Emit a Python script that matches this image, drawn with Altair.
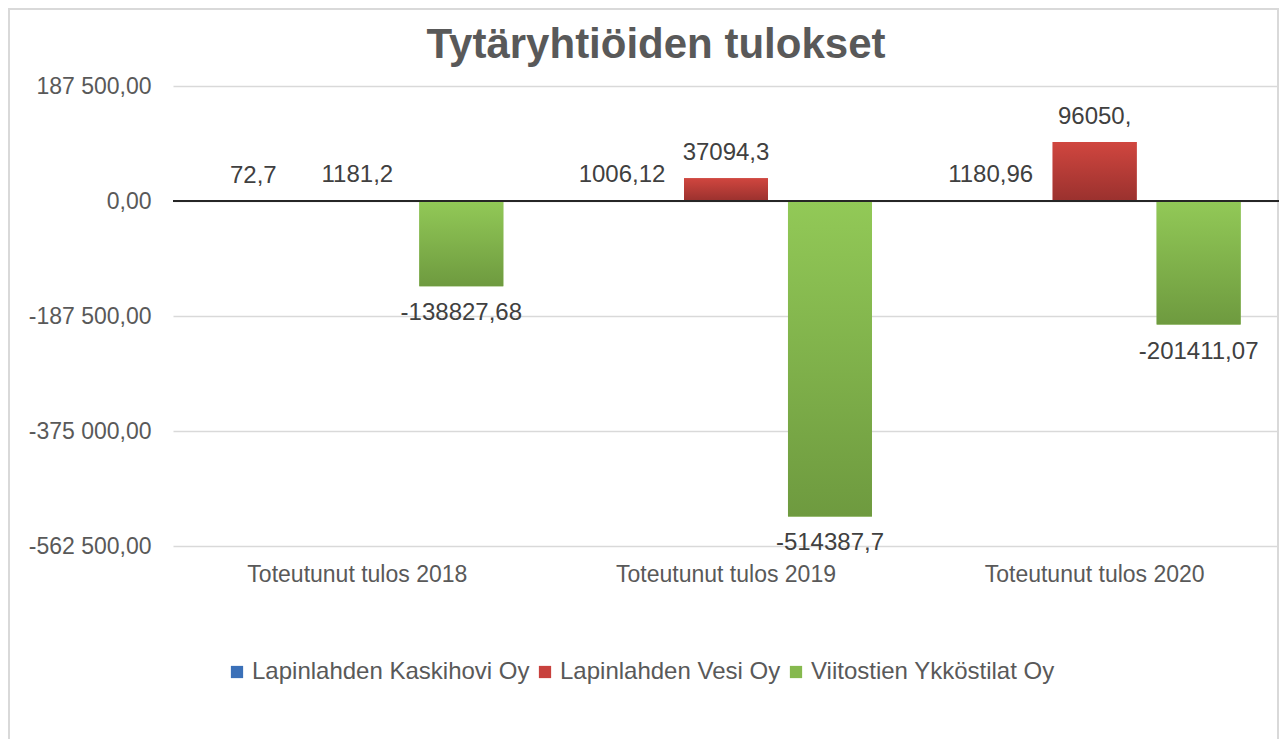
import altair as alt
import pandas as pd

categories = ["Toteutunut tulos 2018", "Toteutunut tulos 2019", "Toteutunut tulos 2020"]
series = ["Lapinlahden Kaskihovi Oy", "Lapinlahden Vesi Oy", "Viitostien Ykköstilat Oy"]
kaskihovi = [72.7, 1006.12, 1180.96]
vesi = [1181.2, 37094.3, 96050.0]
ykkostilat = [-138827.68, -514387.7, -201411.07]
kaskihovi_labels = ["72,7", "1006,12", "1180,96"]
vesi_labels = ["1181,2", "37094,3", "96050,"]
ykkostilat_labels = ["-138827,68", "-514387,7", "-201411,07"]
y_ticks = [-562500, -375000, -187500, 0, 187500]

rows = []
for vals, labs, s in [(kaskihovi, kaskihovi_labels, series[0]),
                      (vesi, vesi_labels, series[1]),
                      (ykkostilat, ykkostilat_labels, series[2])]:
    for c, v, l in zip(categories, vals, labs):
        rows.append({"cat": c, "series": s, "value": v, "label": l})
df = pd.DataFrame(rows)

FONT = "Liberation Sans"
colors = ["#3A70B8", "#C8413D", "#86B94E"]
W, H = 1106, 460

x_enc = alt.X("cat:N", sort=categories, title=None,
              scale=alt.Scale(paddingInner=0, paddingOuter=0),
              axis=alt.Axis(labelAngle=0, labelFontSize=23, labelColor="#595959",
                            labelFont=FONT, labelPadding=17, ticks=False, domain=False,
                            labelLimit=400))
xo_enc = alt.XOffset("series:N", sort=series,
                     scale=alt.Scale(domain=series, paddingInner=0.1923, paddingOuter=0.369))
y_enc = alt.Y("value:Q", stack=None, title=None,
              scale=alt.Scale(domain=[-562500, 187500], nice=False, zero=False),
              axis=alt.Axis(values=y_ticks, labelFontSize=23, labelColor="#595959",
                            labelFont=FONT, labelPadding=22, ticks=False, domain=False,
                            gridColor="#D9D9D9", gridWidth=1.5,
                            labelExpr="replace(replace(replace(format(datum.value, ',.2f'), ',', ' '), '.', ','), '\u2212', '-')"))

base = alt.Chart(df)

bars = base.mark_bar().encode(
    x=x_enc, xOffset=xo_enc, y=y_enc,
    color=alt.Color("series:N", sort=series,
                    scale=alt.Scale(domain=series, range=colors),
                    legend=alt.Legend(title=None, orient="none", direction="horizontal",
                                      legendX=52, legendY=574,
                                      symbolType="square", symbolSize=150,
                                      symbolStrokeWidth=0, labelFontSize=24,
                                      labelFont=FONT, labelColor="#595959",
                                      labelOffset=3, columnPadding=3,
                                      labelLimit=400)),
)

def grad(top, bottom):
    return alt.Gradient(gradient="linear",
                        stops=[alt.GradientStop(color=top, offset=0),
                               alt.GradientStop(color=bottom, offset=1)],
                        x1=0, x2=0, y1=0, y2=1)

red_bars = base.transform_filter(alt.datum.series == series[1]).mark_bar(
    color=grad("#D0463F", "#9A312E")).encode(x=x_enc, xOffset=xo_enc, y=y_enc)
green_bars = base.transform_filter(alt.datum.series == series[2]).mark_bar(
    color=grad("#92C957", "#6E9A3F")).encode(x=x_enc, xOffset=xo_enc, y=y_enc)

zero = alt.Chart(pd.DataFrame({"z": [0]})).mark_rule(color="#262626", strokeWidth=2).encode(
    y=alt.Y("z:Q"))

pos_text = base.transform_filter(alt.datum.value >= 0).mark_text(
    font=FONT, fontSize=24, color="#404040", baseline="middle", dy=-25).encode(
    x=x_enc, xOffset=xo_enc, y=y_enc, text="label:N")
neg_text = base.transform_filter(alt.datum.value < 0).mark_text(
    font=FONT, fontSize=24, color="#404040", baseline="middle", dy=27).encode(
    x=x_enc, xOffset=xo_enc, y=y_enc, text="label:N")

border = alt.Chart(pd.DataFrame({"b": [0]})).mark_rect(
    filled=False, stroke="#D9D9D9", strokeWidth=2).encode(
    x=alt.value(-164), x2=alt.value(W - 1), y=alt.value(-77), y2=alt.value(700))

chart = alt.layer(border, bars, red_bars, green_bars, zero, pos_text, neg_text).properties(
    width=W, height=H,
    padding={"left": 165, "top": 78, "right": 0, "bottom": 193},
    autosize=alt.AutoSizeParams(type="none"),
    title=alt.TitleParams("Tytäryhtiöiden tulokset", font=FONT, fontSize=42,
                          fontWeight="bold", color="#595959", anchor="middle",
                          frame="group", offset=-59, dx=-70),
).configure_view(stroke=None)

chart.save("out.html", embed_options={"renderer": "svg", "actions": False})
